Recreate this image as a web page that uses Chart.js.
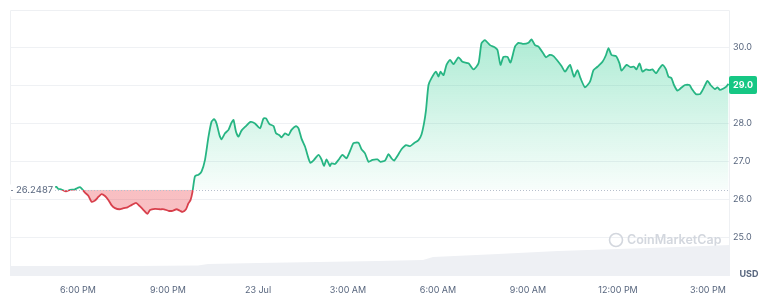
<!DOCTYPE html>
<html>
<head>
<meta charset="utf-8">
<script src="https://cdn.jsdelivr.net/npm/chart.js@4.4.1/dist/chart.umd.min.js"></script>
<style>
html,body{margin:0;padding:0;background:#fff;}
#wrap{width:768px;height:302px;position:relative;}
</style>
</head>
<body>
<div id="wrap"><canvas id="c" width="768" height="302"></canvas></div>
<script>
// minutes since 6:00 PM (22 Jul)
const minutes = [-51,-43,-40,-33,-24,-16,-7,-1,4,9,14,21,27,34,41,47,54,61,67,74,83,91,99,107,116,123,131,139,144,154,164,172,181,189,197,204,209,216,221,225,229,234,241,247,254,261,267,272,277,283,287,294,301,307,311,316,321,327,336,345,354,364,371,376,383,391,396,403,407,414,421,427,436,441,447,454,461,465,472,481,487,492,497,504,507,514,521,529,537,545,551,561,567,574,581,589,599,605,614,621,627,632,641,647,656,664,672,681,687,692,696,701,707,716,721,725,731,737,744,751,761,769,781,791,801,807,814,824,834,839,845,851,859,865,874,881,891,901,907,914,921,931,936,943,951,959,967,974,984,992,999,1005,1014,1024,1031,1039,1049,1056,1061,1067,1076,1083,1087,1097,1105,1112,1117,1123,1129,1136,1143,1149,1156,1163,1169,1176,1181,1187,1192,1199,1205,1214,1223,1227,1236,1244,1251,1259,1265,1274,1279,1284,1291,1296,1301];
const prices = [26.31,26.32,26.27,26.25,26.20,26.24,26.25,26.29,26.31,26.25,26.17,26.08,25.93,25.96,26.06,26.13,26.08,25.97,25.84,25.76,25.73,25.76,25.78,25.84,25.90,25.82,25.71,25.61,25.71,25.74,25.73,25.73,25.69,25.69,25.73,25.69,25.66,25.73,25.89,25.97,26.19,26.60,26.64,26.72,27.03,27.64,28.03,28.10,27.99,27.68,27.57,27.73,27.82,28.01,28.08,27.77,27.64,27.80,27.92,28.03,27.99,27.86,28.12,28.12,27.97,27.92,27.73,27.68,27.62,27.73,27.68,27.82,27.92,27.86,27.59,27.38,27.07,26.95,27.03,27.16,27.04,26.87,27.04,26.87,26.94,26.92,27.03,27.16,27.07,27.29,27.47,27.48,27.31,27.20,26.98,27.03,27.04,26.98,27.01,27.18,27.07,27.01,27.18,27.31,27.42,27.39,27.47,27.55,27.70,27.99,28.34,29.00,29.18,29.35,29.22,29.35,29.26,29.53,29.66,29.55,29.73,29.61,29.57,29.41,29.57,30.10,30.18,30.05,29.99,29.92,29.53,29.74,29.74,29.59,30.01,30.11,30.08,30.11,30.20,30.05,30.01,29.82,29.73,29.79,29.76,29.64,29.50,29.35,29.53,29.22,29.39,29.18,28.94,29.09,29.39,29.48,29.61,29.79,29.97,29.79,29.76,29.57,29.38,29.53,29.47,29.48,29.41,29.57,29.35,29.41,29.39,29.41,29.31,29.44,29.53,29.41,29.22,29.18,29.00,28.85,28.91,29.00,29.00,28.91,28.76,28.76,28.91,29.11,29.00,28.89,28.94,28.87,28.91,28.95,29.03];
const openPrice = 26.2487;
const currentLabel = "29.0";

// volume (relative units)
const volMinutes = [-136,0,120,240,260,360,480,600,690,710,840,960,1080,1200,1304];
const volumes    = [1.0,1.0,1.0,1.05,1.2,1.3,1.4,1.5,1.6,1.9,2.2,2.5,2.7,2.9,3.1];

const tickMinutes = [0,180,360,540,720,900,1080,1260];
const tickLabels = ["6:00 PM","9:00 PM","23 Jul","3:00 AM","6:00 AM","9:00 AM","12:00 PM","3:00 PM"];
const yTicks = [25,26,27,28,29,30];

const GREEN = '#27b583', RED = '#d8404c', BADGE = '#16c784';
const FONT = 'Inter, "Noto Sans", sans-serif';

const priceData = minutes.map((m,i)=>({x:m,y:prices[i]}));
const volData = volMinutes.map((m,i)=>({x:m,y:volumes[i]}));

function basePix(chart){ return chart.scales.y.getPixelForValue(openPrice); }

const overlay = {
  id:'overlay',
  beforeDatasetsDraw(chart){
    const {ctx, chartArea:a} = chart;
    ctx.save();
    ctx.strokeStyle = '#eef0f3'; ctx.lineWidth = 1;
    ctx.beginPath();
    ctx.moveTo(a.left+0.5, a.bottom); ctx.lineTo(a.left+0.5, a.top+0.5);
    ctx.lineTo(a.right-0.5, a.top+0.5); ctx.lineTo(a.right-0.5, a.bottom);
    ctx.stroke();
    ctx.fillStyle = '#d3d7de'; ctx.strokeStyle = '#d3d7de';
    ctx.lineWidth = 1.6;
    ctx.beginPath(); ctx.arc(616, 240, 6.5, 0, Math.PI*2); ctx.stroke();
    ctx.font = '600 12.5px ' + FONT;
    ctx.textBaseline = 'middle'; ctx.textAlign = 'left';
    ctx.fillText('CoinMarketCap', 627, 240);
    ctx.restore();
  },
  afterDatasetsDraw(chart){
    const {ctx, chartArea:a, scales} = chart;
    const by = Math.round(basePix(chart)) + 0.5;
    ctx.save();
    ctx.strokeStyle = '#b7bfcc'; ctx.lineWidth = 1; ctx.setLineDash([1,2]);
    ctx.beginPath(); ctx.moveTo(a.left, by); ctx.lineTo(a.right, by); ctx.stroke();
    ctx.setLineDash([]);
    ctx.font = '9.5px ' + FONT;
    const txt = openPrice.toString();
    const w = ctx.measureText(txt).width;
    ctx.fillStyle = '#ffffff';
    ctx.fillRect(a.left, by-6, w+8, 12);
    ctx.fillStyle = '#808a9d';
    ctx.fillRect(a.left+1, by-0.5, 2, 1);
    ctx.fillStyle = '#58667e';
    ctx.textBaseline = 'middle'; ctx.textAlign = 'left';
    ctx.fillText(txt, a.left+6, by);
    const cy = scales.y.getPixelForValue(29.0);
    ctx.fillStyle = BADGE;
    const bx = a.right - 1, bw = 28, bh = 18;
    ctx.beginPath();
    if (ctx.roundRect) ctx.roundRect(bx, cy-bh/2, bw, bh, 2); else ctx.rect(bx, cy-bh/2, bw, bh);
    ctx.fill();
    ctx.fillStyle = '#ffffff';
    ctx.font = '700 9px ' + FONT;
    ctx.textAlign = 'center';
    ctx.fillText(currentLabel, bx + bw/2, cy+0.5);
    ctx.fillStyle = '#58667e';
    ctx.font = '700 9px ' + FONT;
    ctx.fillText('USD', 749, 274);
    ctx.restore();
  }
};

new Chart(document.getElementById('c'), {
  type:'line',
  data:{
    datasets:[
      {
        label:'Price',
        data: priceData,
        yAxisID:'y',
        order:1,
        borderWidth:1.8,
        pointRadius:0,
        tension:0.2,
        borderColor(ctx){
          const chart = ctx.chart, a = chart.chartArea;
          if(!a) return GREEN;
          const f = Math.min(1, Math.max(0, (basePix(chart)-a.top)/(a.bottom-a.top)));
          const g = chart.ctx.createLinearGradient(0, a.top, 0, a.bottom);
          g.addColorStop(0, GREEN); g.addColorStop(f, GREEN);
          g.addColorStop(f, RED); g.addColorStop(1, RED);
          return g;
        },
        backgroundColor(ctx){
          const chart = ctx.chart, a = chart.chartArea;
          if(!a) return 'rgba(22,199,132,0.2)';
          const top = chart.scales.y.getPixelForValue(30.2);
          const bp = basePix(chart);
          const f = (bp - top)/(a.bottom - top);
          const g = chart.ctx.createLinearGradient(0, top, 0, a.bottom);
          g.addColorStop(0, 'rgba(22,199,132,0.34)');
          g.addColorStop(f, 'rgba(22,199,132,0.03)');
          g.addColorStop(f, 'rgba(234,57,67,0.32)');
          g.addColorStop(1, 'rgba(234,57,67,0.32)');
          return g;
        },
        fill:{value: openPrice}
      },
      {
        label:'Volume',
        data: volData,
        yAxisID:'yv',
        order:2,
        borderWidth:0,
        pointRadius:0,
        tension:0,
        backgroundColor:'#eef0f4',
        borderColor:'rgba(0,0,0,0)',
        fill:'origin'
      }
    ]
  },
  options:{
    responsive:false,
    animation:false,
    events:[],
    layout:{padding:{left:10, top:10, right:0, bottom:0}},
    plugins:{legend:{display:false}, tooltip:{enabled:false}},
    scales:{
      x:{
        type:'linear',
        min:-136, max:1304,
        grid:{display:false, drawTicks:false},
        border:{display:false},
        afterBuildTicks(s){ s.ticks = tickMinutes.map(v=>({value:v})); },
        afterFit(s){ s.height = 26; },
        ticks:{
          autoSkip:false, maxRotation:0, padding:9,
          color:'#58667e', font:{family:FONT, size:9},
          callback(v, i){ return tickLabels[i]; }
        }
      },
      y:{
        type:'linear',
        position:'right',
        min:23.974, max:30.974,
        grid:{color:'#eff1f4', drawTicks:false},
        border:{display:false},
        afterBuildTicks(s){ s.ticks = yTicks.map(v=>({value:v})); },
        afterFit(s){ s.width = 38; },
        ticks:{
          padding:3, color:'#58667e', font:{family:FONT, size:9},
          callback(v){ return Number(v).toFixed(1); }
        }
      },
      yv:{
        type:'linear', display:false, min:0, max:26.6
      }
    }
  },
  plugins:[overlay]
});
</script>
</body>
</html>
